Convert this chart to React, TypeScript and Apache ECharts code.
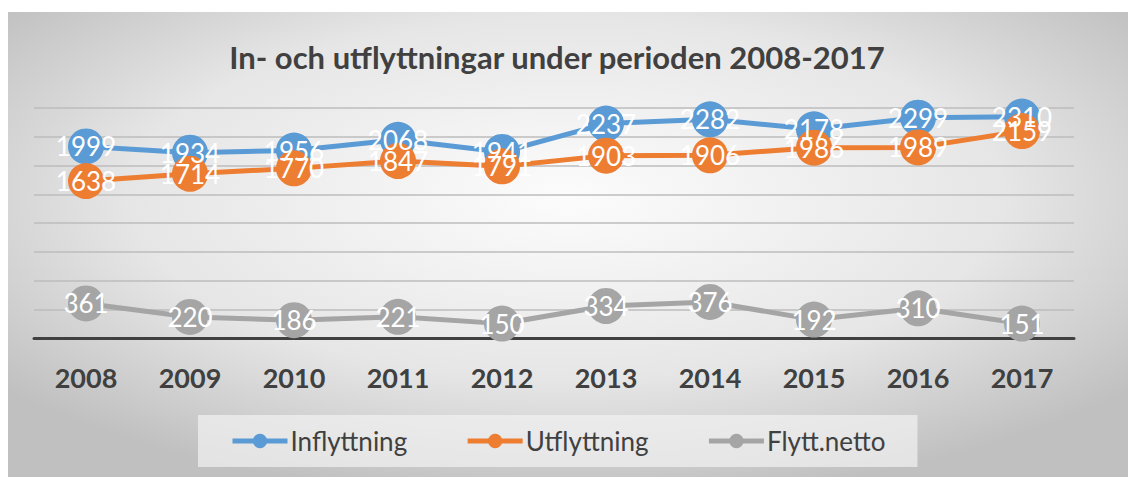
import React, { useEffect, useRef } from "react";
import * as echarts from "echarts";

const years = ["2008", "2009", "2010", "2011", "2012", "2013", "2014", "2015", "2016", "2017"];
const inflyttning = [1999, 1934, 1956, 2068, 1941, 2237, 2282, 2178, 2299, 2310];
const utflyttning = [1638, 1714, 1770, 1847, 1791, 1903, 1906, 1986, 1989, 2159];
const flyttNetto = [361, 220, 186, 221, 150, 334, 376, 192, 310, 151];
const seriesNames = ["Inflyttning", "Utflyttning", "Flytt.netto"];
const colors = ["#5B9BD5", "#ED7D31", "#A5A5A5"];
const titleText = "In- och utflyttningar under perioden 2008-2017";

export default function App() {
  const ref = useRef<HTMLDivElement>(null);
  useEffect(() => {
    if (!ref.current) return;
    const chart = echarts.init(ref.current, undefined, { renderer: "svg" });
    const datas = [inflyttning, utflyttning, flyttNetto];
    chart.setOption({
      animation: false,
      backgroundColor: {
        type: "radial",
        x: 0.5,
        y: 0.4,
        r: 0.65,
        colorStops: [
          { offset: 0, color: "#fcfcfc" },
          { offset: 0.6, color: "#e6e6e6" },
          { offset: 1, color: "#c0c0c0" },
        ],
      },
      textStyle: { fontFamily: "Lato" },
      title: {
        text: titleText,
        left: 544,
        textAlign: "center",
        top: 24,
        textStyle: { fontFamily: "Lato", fontWeight: "bold", fontSize: 31, color: "#404040" },
      },
      legend: {
        data: seriesNames,
        left: 190,
        top: 403,
        height: 55,
        padding: [13, 32, 13, 32],
        itemGap: 58,
        itemWidth: 55,
        itemHeight: 18,
        lineStyle: { width: 5 },
        backgroundColor: "rgba(242,242,242,0.7)",
        textStyle: { fontFamily: "Lato", fontSize: 26, color: "#404040", padding: [0, 0, 0, -2] },
      },
      grid: { left: 26, right: 54, top: 96, bottom: 139, containLabel: false },
      xAxis: {
        type: "category",
        data: years,
        boundaryGap: true,
        axisLine: { lineStyle: { color: "#404040", width: 3 } },
        axisTick: { show: false },
        axisLabel: {
          fontFamily: "Lato",
          fontWeight: "bold",
          fontSize: 27,
          color: "#404040",
          margin: 26,
        },
      },
      yAxis: {
        type: "value",
        min: 0,
        max: 2400,
        interval: 300,
        axisLabel: { show: false },
        axisLine: { show: false },
        axisTick: { show: false },
        splitLine: { lineStyle: { color: "#bcbcbc", width: 1.5 } },
      },
      series: seriesNames.map((name, i) => ({
        name,
        type: "line",
        data: datas[i],
        symbol: "circle",
        symbolSize: 36,
        lineStyle: { color: colors[i], width: 5 },
        itemStyle: { color: colors[i] },
        label: {
          show: true,
          position: "inside",
          color: "#ffffff",
          fontFamily: "Lato",
          fontSize: 26,
        },
      })),
    });
    return () => chart.dispose();
  }, []);
  return (
    <div
      ref={ref}
      style={{ position: "absolute", left: 8, top: 12, width: 1120, height: 465 }}
    />
  );
}
